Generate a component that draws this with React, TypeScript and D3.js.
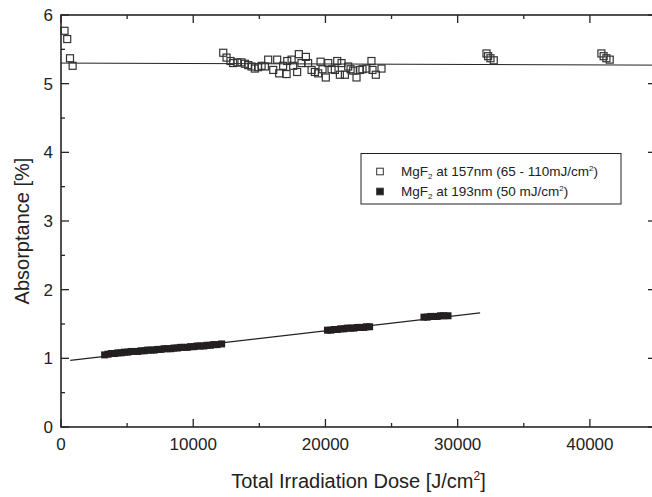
import React from "react";
import * as d3 from "d3";

// MgF2 at 157 nm (open squares)
const dose157 = [
  265, 470, 680, 880,
  12270, 12520, 12820, 13020, 13330, 13650, 13910, 14160, 14410, 14660, 14910,
  15170, 15420, 15670, 16050, 16350, 16500, 16800, 17060, 17110, 17440, 17560,
  17860, 17990, 18190, 18520, 18690, 18950, 19200, 19450, 19630, 19780, 20030,
  20210, 20460, 20710, 20890, 21090, 21220, 21470, 21720, 21900, 22100, 22350,
  22600, 22800, 23100, 23480, 23560, 23810, 24240,
  32180, 32300, 32480, 32730,
  40870, 41040, 41250, 41500,
];
const abs157 = [
  5.77, 5.65, 5.37, 5.26,
  5.45, 5.38, 5.33, 5.3, 5.31, 5.31, 5.29, 5.27, 5.25, 5.22, 5.24,
  5.26, 5.25, 5.35, 5.2, 5.35, 5.15, 5.26, 5.14, 5.33, 5.35, 5.26,
  5.17, 5.43, 5.3, 5.39, 5.3, 5.2, 5.17, 5.15, 5.32, 5.21, 5.09,
  5.3, 5.21, 5.2, 5.33, 5.13, 5.3, 5.13, 5.25, 5.21, 5.19, 5.09,
  5.2, 5.21, 5.22, 5.33, 5.2, 5.13, 5.22,
  5.44, 5.4, 5.37, 5.34,
  5.44, 5.4, 5.37, 5.35,
];

// MgF2 at 193 nm (filled squares)
const dose193 = [
  3300, 3550, 3800, 4050, 4300, 4550, 4800, 5050, 5300, 5550, 5800, 6050,
  6300, 6550, 6800, 7050, 7300, 7550, 7800, 8050, 8300, 8550, 8800, 9050,
  9300, 9550, 9800, 10050, 10300, 10550, 10800, 11050, 11300, 11550, 11800, 12150,
  20150, 20400, 20650, 20900, 21150, 21400, 21650, 21900, 22150, 22400, 22650,
  22900, 23100, 23340,
  27450, 27700, 27950, 28200, 28450, 28700, 28950, 29270,
];
const abs193 = [
  1.05, 1.06, 1.07, 1.07, 1.08, 1.08, 1.09, 1.09, 1.1, 1.1, 1.1, 1.11,
  1.11, 1.12, 1.12, 1.12, 1.13, 1.13, 1.14, 1.14, 1.14, 1.15, 1.15, 1.16,
  1.16, 1.16, 1.17, 1.17, 1.18, 1.18, 1.18, 1.19, 1.19, 1.2, 1.2, 1.21,
  1.41, 1.41, 1.42, 1.42, 1.43, 1.43, 1.44, 1.44, 1.44, 1.45, 1.45,
  1.45, 1.46, 1.46,
  1.6, 1.6, 1.61, 1.61, 1.61, 1.62, 1.62, 1.62,
];

// Fitted lines (endpoints)
const fit157Dose = [0, 45000];
const fit157Abs = [5.3, 5.27];
const fit193Dose = [700, 31700];
const fit193Abs = [0.97, 1.662];

const xMajor = [0, 10000, 20000, 30000, 40000];
const xMinor = [5000, 15000, 25000, 35000, 45000];
const yMajor = [0, 1, 2, 3, 4, 5, 6];
const yMinor = [0.5, 1.5, 2.5, 3.5, 4.5, 5.5];

const legendLabels = [
  { base: "MgF", sub: "2", rest: " at 157nm (65 - 110mJ/cm", sup: "2", end: ")", filled: false },
  { base: "MgF", sub: "2", rest: " at 193nm (50 mJ/cm", sup: "2", end: ")", filled: true },
];

export default function App() {
  const W = 652;
  const H = 497;
  const left = 61;
  const right = 656;
  const top = 15;
  const bottom = 427;
  const x = d3.scaleLinear().domain([0, 45000]).range([left, right]);
  const y = d3.scaleLinear().domain([0, 6]).range([bottom, top]);
  const font = "'Liberation Sans', Arial, Helvetica, sans-serif";
  const axisColor = "#262626";
  const ms = 7;
  const line = d3
    .line<[number, number]>()
    .x((d) => x(d[0]))
    .y((d) => y(d[1]));
  const fit157 = fit157Dose.map((d, i) => [d, fit157Abs[i]] as [number, number]);
  const fit193 = fit193Dose.map((d, i) => [d, fit193Abs[i]] as [number, number]);

  return (
    <svg
      width={W}
      height={H}
      style={{ position: "absolute", left: 0, top: 0, background: "#fff" }}
      fontFamily={font}
    >
      <rect width={W} height={H} fill="#fff" />
      {/* fitted lines */}
      <path d={line(fit157) || ""} fill="none" stroke="#222" strokeWidth={1} />
      <path d={line(fit193) || ""} fill="none" stroke="#222" strokeWidth={1.3} />

      {/* 193 nm filled squares */}
      {dose193.map((d, i) => (
        <rect
          key={"f" + i}
          x={x(d) - ms / 2}
          y={y(abs193[i]) - ms / 2}
          width={ms}
          height={ms}
          fill="#231f20"
        />
      ))}
      {/* 157 nm open squares */}
      {dose157.map((d, i) => (
        <rect
          key={"o" + i}
          x={x(d) - ms / 2}
          y={y(abs157[i]) - ms / 2}
          width={ms}
          height={ms}
          fill="#fff"
          fillOpacity={0}
          stroke="#333"
          strokeWidth={1.2}
        />
      ))}

      {/* frame */}
      <rect
        x={left}
        y={top}
        width={right - left}
        height={bottom - top}
        fill="none"
        stroke={axisColor}
        strokeWidth={1.6}
      />
      {/* x ticks (bottom + top, inward) */}
      {xMajor.map((t) => (
        <g key={"xm" + t} stroke={axisColor} strokeWidth={1.3}>
          <line x1={x(t)} x2={x(t)} y1={bottom} y2={bottom - 8} />
          <line x1={x(t)} x2={x(t)} y1={top} y2={top + 8} />
        </g>
      ))}
      {xMinor.map((t) => (
        <g key={"xn" + t} stroke={axisColor} strokeWidth={1.3}>
          <line x1={x(t)} x2={x(t)} y1={bottom} y2={bottom - 4} />
          <line x1={x(t)} x2={x(t)} y1={top} y2={top + 4} />
        </g>
      ))}
      {/* y ticks (left + right, inward) */}
      {yMajor.map((t) => (
        <g key={"ym" + t} stroke={axisColor} strokeWidth={1.3}>
          <line x1={left} x2={left + 8} y1={y(t)} y2={y(t)} />
          <line x1={right} x2={right - 8} y1={y(t)} y2={y(t)} />
        </g>
      ))}
      {yMinor.map((t) => (
        <g key={"yn" + t} stroke={axisColor} strokeWidth={1.3}>
          <line x1={left} x2={left + 4} y1={y(t)} y2={y(t)} />
          <line x1={right} x2={right - 4} y1={y(t)} y2={y(t)} />
        </g>
      ))}

      {/* tick labels */}
      {xMajor.map((t) => (
        <text
          key={"xl" + t}
          x={x(t)}
          y={bottom + 23}
          textAnchor="middle"
          fontSize={17}
          fill="#222"
        >
          {t}
        </text>
      ))}
      {yMajor.map((t) => (
        <text
          key={"yl" + t}
          x={left - 8}
          y={y(t) + 6}
          textAnchor="end"
          fontSize={17}
          fill="#222"
        >
          {t}
        </text>
      ))}

      {/* axis titles */}
      <text
        x={(left + right) / 2}
        y={488}
        textAnchor="middle"
        fontSize={20}
        fill="#222"
      >
        Total Irradiation Dose [J/cm
        <tspan dy={-8} fontSize={12}>
          2
        </tspan>
        <tspan dy={8}>]</tspan>
      </text>
      <text
        transform={`translate(29, 231) rotate(-90)`}
        textAnchor="middle"
        fontSize={20}
        fill="#222"
      >
        Absorptance [%]
      </text>

      {/* legend */}
      <rect
        x={361}
        y={153.5}
        width={260}
        height={50.5}
        fill="#fff"
        stroke="#222"
        strokeWidth={1}
      />
      {legendLabels.map((l, i) => {
        const cy = 171.5 + i * 20;
        return (
          <g key={"lg" + i}>
            <rect
              x={380 - 3.3}
              y={cy - 3.3}
              width={6.6}
              height={6.6}
              fill={l.filled ? "#231f20" : "#fff"}
              stroke="#333"
              strokeWidth={1}
            />
            <text x={401} y={cy + 4.5} fontSize={13.5} fill="#222">
              {l.base}
              <tspan dy={3} fontSize={8}>
                {l.sub}
              </tspan>
              <tspan dy={-3}>{l.rest}</tspan>
              <tspan dy={-5} fontSize={8}>
                {l.sup}
              </tspan>
              <tspan dy={5}>{l.end}</tspan>
            </text>
          </g>
        );
      })}
    </svg>
  );
}
